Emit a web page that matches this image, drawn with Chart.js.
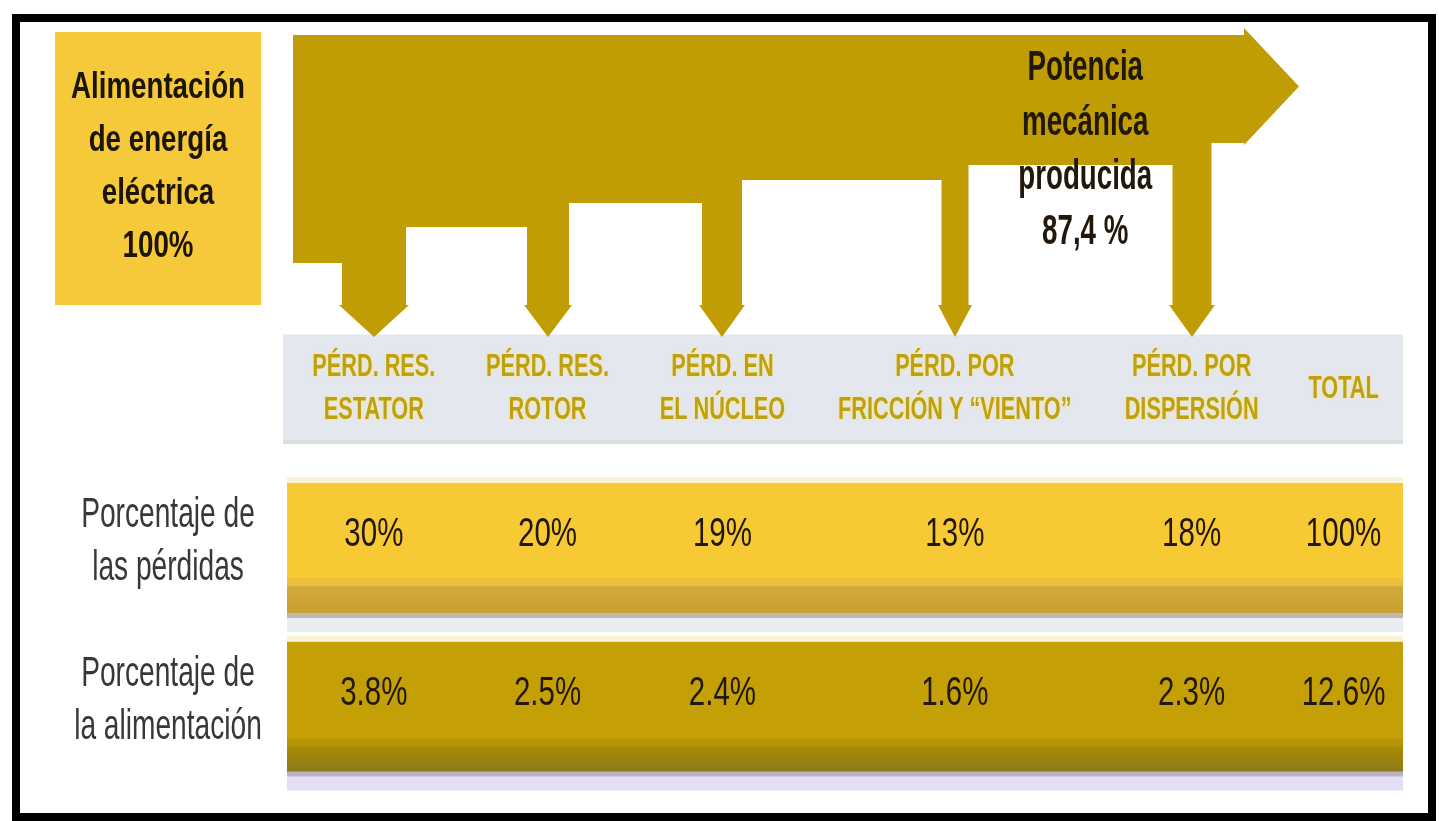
<!DOCTYPE html>
<html><head><meta charset="utf-8">
<script src="https://cdn.jsdelivr.net/npm/chart.js@4.4.1/dist/chart.umd.min.js"></script>
<style>html,body{margin:0;padding:0;background:#fff;overflow:hidden}canvas{display:block}</style>
</head><body>
<canvas id="c" width="1439" height="821"></canvas>
<script>
// ---------- data ----------
const columnHeaders = [
  ['PÉRD. RES.', 'ESTATOR'],
  ['PÉRD. RES.', 'ROTOR'],
  ['PÉRD. EN', 'EL NÚCLEO'],
  ['PÉRD. POR', 'FRICCIÓN Y “VIENTO”'],
  ['PÉRD. POR', 'DISPERSIÓN'],
  ['TOTAL']
];
const rowNames = [['Porcentaje de', 'las pérdidas'], ['Porcentaje de', 'la alimentación']];
const lossSharePct = [30, 20, 19, 13, 18, 100];
const inputSharePct = [3.8, 2.5, 2.4, 1.6, 2.3, 12.6];
const inputLines = ['Alimentación', 'de energía', 'eléctrica'];
const inputPct = 100;
const outputLines = ['Potencia', 'mecánica', 'producida'];
const outputPct = 87.4;
const rowKeys = ['header', 'loss', 'input'];

// ---------- styles ----------
const FONT = '"Liberation Sans", Arial, sans-serif';
const C = {
  band: '#c09c05', box: '#f5c93a', head: '#e4e7ee', headTxt: '#bfa013',
  row1: '#f6c935', row2: '#c4a006', ink: '#21180a', label: '#383838'
};
const HEAD_FONT = { size: 31, weight: 'bold', sx: 0.70 };
const GAP = 44;

function txt(ctx, s, x, y, size, weight, color, sx, baseline) {
  ctx.save();
  ctx.font = weight + ' ' + size + 'px ' + FONT;
  ctx.fillStyle = color; ctx.textAlign = 'center'; ctx.textBaseline = baseline || 'alphabetic';
  ctx.translate(x, y); ctx.scale(sx, 1); ctx.fillText(s, 0, 0);
  ctx.restore();
}

// column widths follow the header text widths
const mctx = document.createElement('canvas').getContext('2d');
mctx.font = HEAD_FONT.weight + ' ' + HEAD_FONT.size + 'px ' + FONT;
const colW = columnHeaders.map(lines => Math.max(...lines.map(l => mctx.measureText(l).width)) * HEAD_FONT.sx + GAP);
const colStart = []; colW.reduce((acc, w, i) => { colStart[i] = acc; return acc + w; }, 0);
const xMax = colW.reduce((a, b) => a + b, 0);
const fullSpan = rowKeys.map(() => [0, xMax]);

const FLOW = { top: 35, bottom: 263, shaftEnd: 305, tip: 337, arrowPxPerPct: 16.8, stepPxPerPct: 9.5,
  minHead: 34, headGap: 52, headLen: 55, headOver: 7 };

const infographic = {
  id: 'infographic',
  beforeDraw(chart) {
    const ctx = chart.ctx;
    ctx.save(); ctx.fillStyle = '#fff'; ctx.fillRect(0, 0, chart.width, chart.height);
    ctx.restore();
  },
  afterDatasetsDraw(chart) {
    const ctx = chart.ctx, ca = chart.chartArea, xs = chart.scales.x;
    const center = i => xs.getPixelForValue(colStart[i] + colW[i] / 2);
    const bar = d => chart.getDatasetMeta(d).data[d];
    ctx.save();
    // --- header band detail + labels
    const hb = bar(0), hTop = hb.y - hb.height / 2, hBot = hb.y + hb.height / 2;
    ctx.fillStyle = '#d9dce3'; ctx.fillRect(hb.base - 4, hBot - 4, hb.x - hb.base + 4, 4);
    ctx.fillStyle = C.head; ctx.fillRect(hb.base - 4, hTop, 4, hb.height - 4);
    columnHeaders.forEach((lines, i) => {
      const n = lines.length;
      lines.forEach((l, k) => {
        ctx.save(); ctx.shadowColor = 'rgba(255,236,110,0.9)'; ctx.shadowBlur = 3;
        txt(ctx, l, center(i), hb.y + (k - (n - 1) / 2) * 43, HEAD_FONT.size, HEAD_FONT.weight, C.headTxt, HEAD_FONT.sx, 'middle');
        ctx.restore();
      });
    });
    // --- row bands: bottom bevel and shadow
    const r1 = bar(1), r2 = bar(2);
    const rows = [
      { b: r1, strip: 27, c1: '#d3ab3c', c2: '#c79f32', line: '#edc03a', sh1: '#c0b8ae', sh2: '#e9edf0', vals: lossSharePct.map(v => v + '%') },
      { b: r2, strip: 25, c1: '#a98a03', c2: '#8d7a1c', line: '#b59303', sh1: '#b9b2c6', sh2: '#e4dff5', vals: inputSharePct.map(v => v.toFixed(1) + '%') }
    ];
    rows.forEach((r, ri) => {
      const L = r.b.base, W = r.b.x - r.b.base, T = r.b.y - r.b.height / 2, B = r.b.y + r.b.height / 2;
      ctx.fillStyle = '#fbf3d2'; ctx.fillRect(L, T - 6, W, 6);
      ctx.fillStyle = r.line; ctx.fillRect(L, B - r.strip - 8, W, 8);
      const g = ctx.createLinearGradient(0, B - r.strip, 0, B);
      g.addColorStop(0, r.c1); g.addColorStop(1, r.c2);
      ctx.fillStyle = g; ctx.fillRect(L, B - r.strip, W, r.strip);
      ctx.fillStyle = r.sh1; ctx.fillRect(L, B, W, 5);
      ctx.fillStyle = r.sh2; ctx.fillRect(L, B + 5, W, 14);
      const mid = T + (r.b.height - r.strip) / 2;
      r.vals.forEach((v, i) => txt(ctx, v, center(i), mid, 41, 'normal', C.ink, 0.72, 'middle'));
      rowNames[ri].forEach((l, k) => txt(ctx, l, ca.left - 119, r.b.y - 6 + (k - 0.5) * 53, 42, 'normal', C.label, 0.67, 'middle'));
    });

    // --- flow diagram (Sankey-like) driven by the share of the input, drawn as one polygon
    const nArrows = columnHeaders.length - 1;
    const arrows = [];
    let cur = FLOW.bottom;
    for (let i = 0; i < nArrows; i++) {
      const c = Math.round(center(i)), w = Math.round(inputSharePct[i] * FLOW.arrowPxPerPct);
      const hw = Math.round(Math.max(w + 6, FLOW.minHead) / 2);
      arrows.push({ c, l: c - w / 2, r: c + w / 2, hw, level: Math.round(cur) });
      cur -= inputSharePct[i] * FLOW.stepPxPerPct;
    }
    const endLevel = Math.round(cur);
    const x0 = Math.round(ca.left + 6);
    const hs = Math.round(center(nArrows - 1) + FLOW.headGap);
    ctx.fillStyle = C.band;
    ctx.beginPath();
    ctx.moveTo(x0, FLOW.top);
    ctx.lineTo(hs, FLOW.top);
    ctx.lineTo(hs, FLOW.top - FLOW.headOver);
    ctx.lineTo(hs + FLOW.headLen, (FLOW.top - FLOW.headOver + endLevel + 2) / 2);
    ctx.lineTo(hs, endLevel + 2);
    ctx.lineTo(hs, endLevel);
    let lvl = endLevel;
    for (let i = nArrows - 1; i >= 0; i--) {
      const a = arrows[i];
      ctx.lineTo(a.r, lvl);
      ctx.lineTo(a.r, FLOW.shaftEnd);
      ctx.lineTo(a.c + a.hw, FLOW.shaftEnd);
      ctx.lineTo(a.c, FLOW.tip);
      ctx.lineTo(a.c - a.hw, FLOW.shaftEnd);
      ctx.lineTo(a.l, FLOW.shaftEnd);
      ctx.lineTo(a.l, a.level);
      lvl = a.level;
    }
    ctx.lineTo(x0, lvl);
    ctx.closePath();
    ctx.fill();

    // output text
    const last = nArrows - 1;
    const ox = (center(last - 1) + center(last)) / 2 + 12;
    const outTexts = outputLines.concat([outputPct.toFixed(1).replace('.', ',') + ' %']);
    outTexts.forEach((l, k) => txt(ctx, l, ox, 80 + k * 54.5, 42, 'bold', C.ink, 0.66));

    // input box
    const bl = 55, br = ca.left - 26, bt = FLOW.top - 3, bb = FLOW.shaftEnd;
    ctx.fillStyle = C.box; ctx.fillRect(bl, bt, br - bl, bb - bt);
    const bx = (bl + br) / 2;
    inputLines.concat([inputPct + '%']).forEach((l, k) => txt(ctx, l, bx, 98 + k * 53, 36, 'bold', '#1c1405', 0.77));

    // frame
    ctx.strokeStyle = '#000'; ctx.lineWidth = 8; ctx.strokeRect(16, 18, 1416, 799);
    ctx.restore();
  }
};

new Chart(document.getElementById('c'), {
  type: 'bar',
  data: {
    labels: rowKeys,
    datasets: [
      { data: [fullSpan[0], null, null], backgroundColor: C.head, barPercentage: 0.69, categoryPercentage: 1, grouped: false },
      { data: [null, fullSpan[1], null], backgroundColor: C.row1, barPercentage: 0.82, categoryPercentage: 1, grouped: false },
      { data: [null, null, fullSpan[2]], backgroundColor: C.row2, barPercentage: 0.82, categoryPercentage: 1, grouped: false }
    ]
  },
  options: {
    indexAxis: 'y', responsive: false, animation: false, devicePixelRatio: 1, events: [],
    layout: { padding: { left: 287, right: 36, top: 310, bottom: 35 } },
    plugins: { legend: { display: false }, tooltip: { enabled: false } },
    scales: {
      x: { type: 'linear', min: 0, max: xMax, display: false },
      y: { type: 'category', display: false, offset: true }
    }
  },
  plugins: [infographic]
});
</script>
</body></html>
